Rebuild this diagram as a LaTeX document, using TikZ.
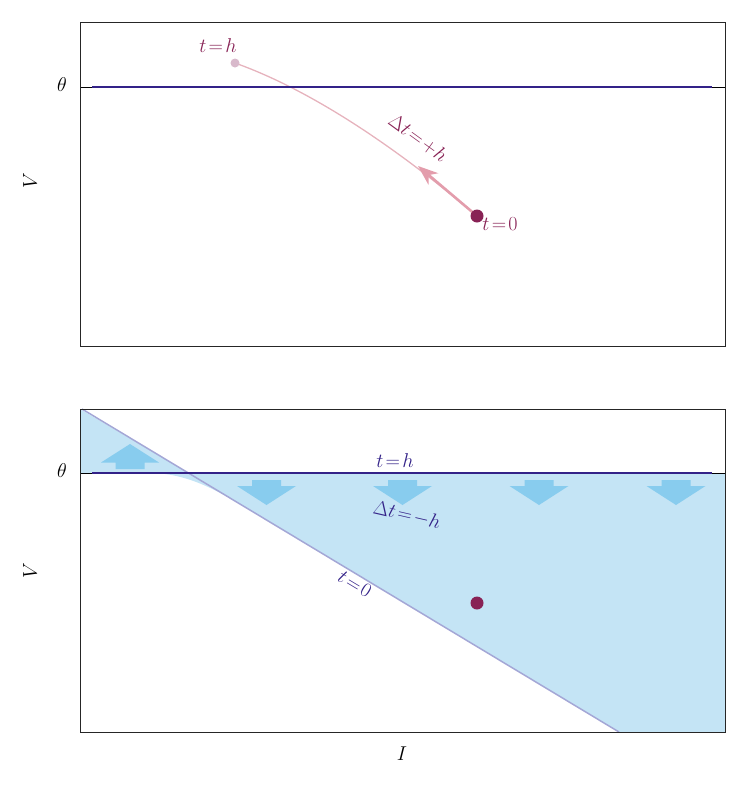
\documentclass[tikz,border=0pt]{standalone}
\usepackage{fix-cm}
\usetikzlibrary{arrows.meta}
\DeclareMathSizes{20}{20}{14}{10}
\definecolor{wine}{HTML}{882255}
\definecolor{indigo}{HTML}{332288}
\definecolor{lblue}{HTML}{C4E4F5}
\definecolor{ablue}{HTML}{88CCEE}
\definecolor{tline}{HTML}{A4A7D6}
\definecolor{pinkc}{HTML}{E6B3BD}
\definecolor{pinka}{HTML}{E39DAC}
\definecolor{hdot}{HTML}{D8B9CB}
\newcommand{\lblfont}{\fontsize{20}{24}\selectfont\thickmuskip=2mu\relax\medmuskip=1mu\relax}
\tikzset{
  lbl/.style={font=\lblfont, inner sep=1pt},
  frame/.style={draw=black!85, line width=0.9pt},
  thetaline/.style={draw=indigo, line width=1.6pt},
  blockarrow/.style={fill=ablue, draw=none},
}
\newcommand{\myDownArrow}[1]{%
  \fill[blockarrow] (#1-14.5,480) -- (#1+14.5,480) -- (#1+14.5,486) -- (#1+29.5,486) -- (#1,505) -- (#1-29.5,486) -- (#1-14.5,486) -- cycle;}
\begin{document}
\begin{tikzpicture}[x=1pt,y=-1pt]
\useasboundingbox (0,0) rectangle (748,790);
% ---------- top panel ----------
\coordinate (th) at (235,63);
\coordinate (t0) at (477,216);
\coordinate (amid) at (418,166);
\draw[pinkc, line width=1.3pt] (th) .. controls (305,88) and (386,139) .. (t0);
\draw[thetaline] (92,87) -- (712,87);
\draw[black, line width=1pt] (80,87) -- (92,87) (712,87) -- (725,87);
\draw[pinka, line width=2.6pt, -{Stealth[length=20pt, width=15pt, inset=6pt]}] (t0) -- (amid);
\fill[hdot] (th) circle (4.5);
\fill[wine] (t0) circle (6.5);
\draw[frame] (80,22) rectangle (725,346);
\node[lbl, text=wine] (lth) at (218,46) {$t=h$};
\node[lbl, text=wine] (lt0) at (500,224) {$t=0$};
\node[lbl, text=wine, rotate=-36] (ldt) at (418,138) {$\Delta t=+h$};
\node[lbl] (theta1) at (62,85) {$\theta$};
\node[lbl, rotate=90] (V1) at (30,181) {$V$};
% ---------- bottom panel ----------
\fill[lblue] (80,409) -- (80,473) -- (150,473) .. controls (185,473) and (215,489) .. (245,507)
  -- (619,732) -- (725,732) -- (725,473) -- (188.5,473) -- cycle;
\fill[blockarrow] (115.5,469) -- (144.5,469) -- (144.5,462.5) -- (159,462.5) -- (130,444) -- (101,462.5) -- (115.5,462.5) -- cycle;
\myDownArrow{266.5}
\myDownArrow{402.5}
\myDownArrow{539}
\myDownArrow{676}
\coordinate (ls) at (82,409);
\coordinate (le) at (619,732);
\draw[tline, line width=1.5pt] (ls) -- (le);
\draw[thetaline] (92,473) -- (712,473);
\draw[black, line width=1pt] (80,473) -- (92,473) (712,473) -- (725,473);
\fill[wine] (477,603) circle (6.5);
\draw[frame] (80,409) rectangle (725,732);
\node[lbl, text=indigo] (bth) at (395,461) {$t=h$};
\node[lbl, text=indigo, rotate=-13] (bdt) at (407,515) {$\Delta t=-h$};
\node[lbl, text=indigo, rotate=-31] (bt0) at (355,584) {$t=0$};
\node[lbl] (theta2) at (62,471) {$\theta$};
\node[lbl, rotate=90] (V2) at (30,571) {$V$};
\node[lbl] (I) at (402,754) {$I$};
\end{tikzpicture}
\end{document}
